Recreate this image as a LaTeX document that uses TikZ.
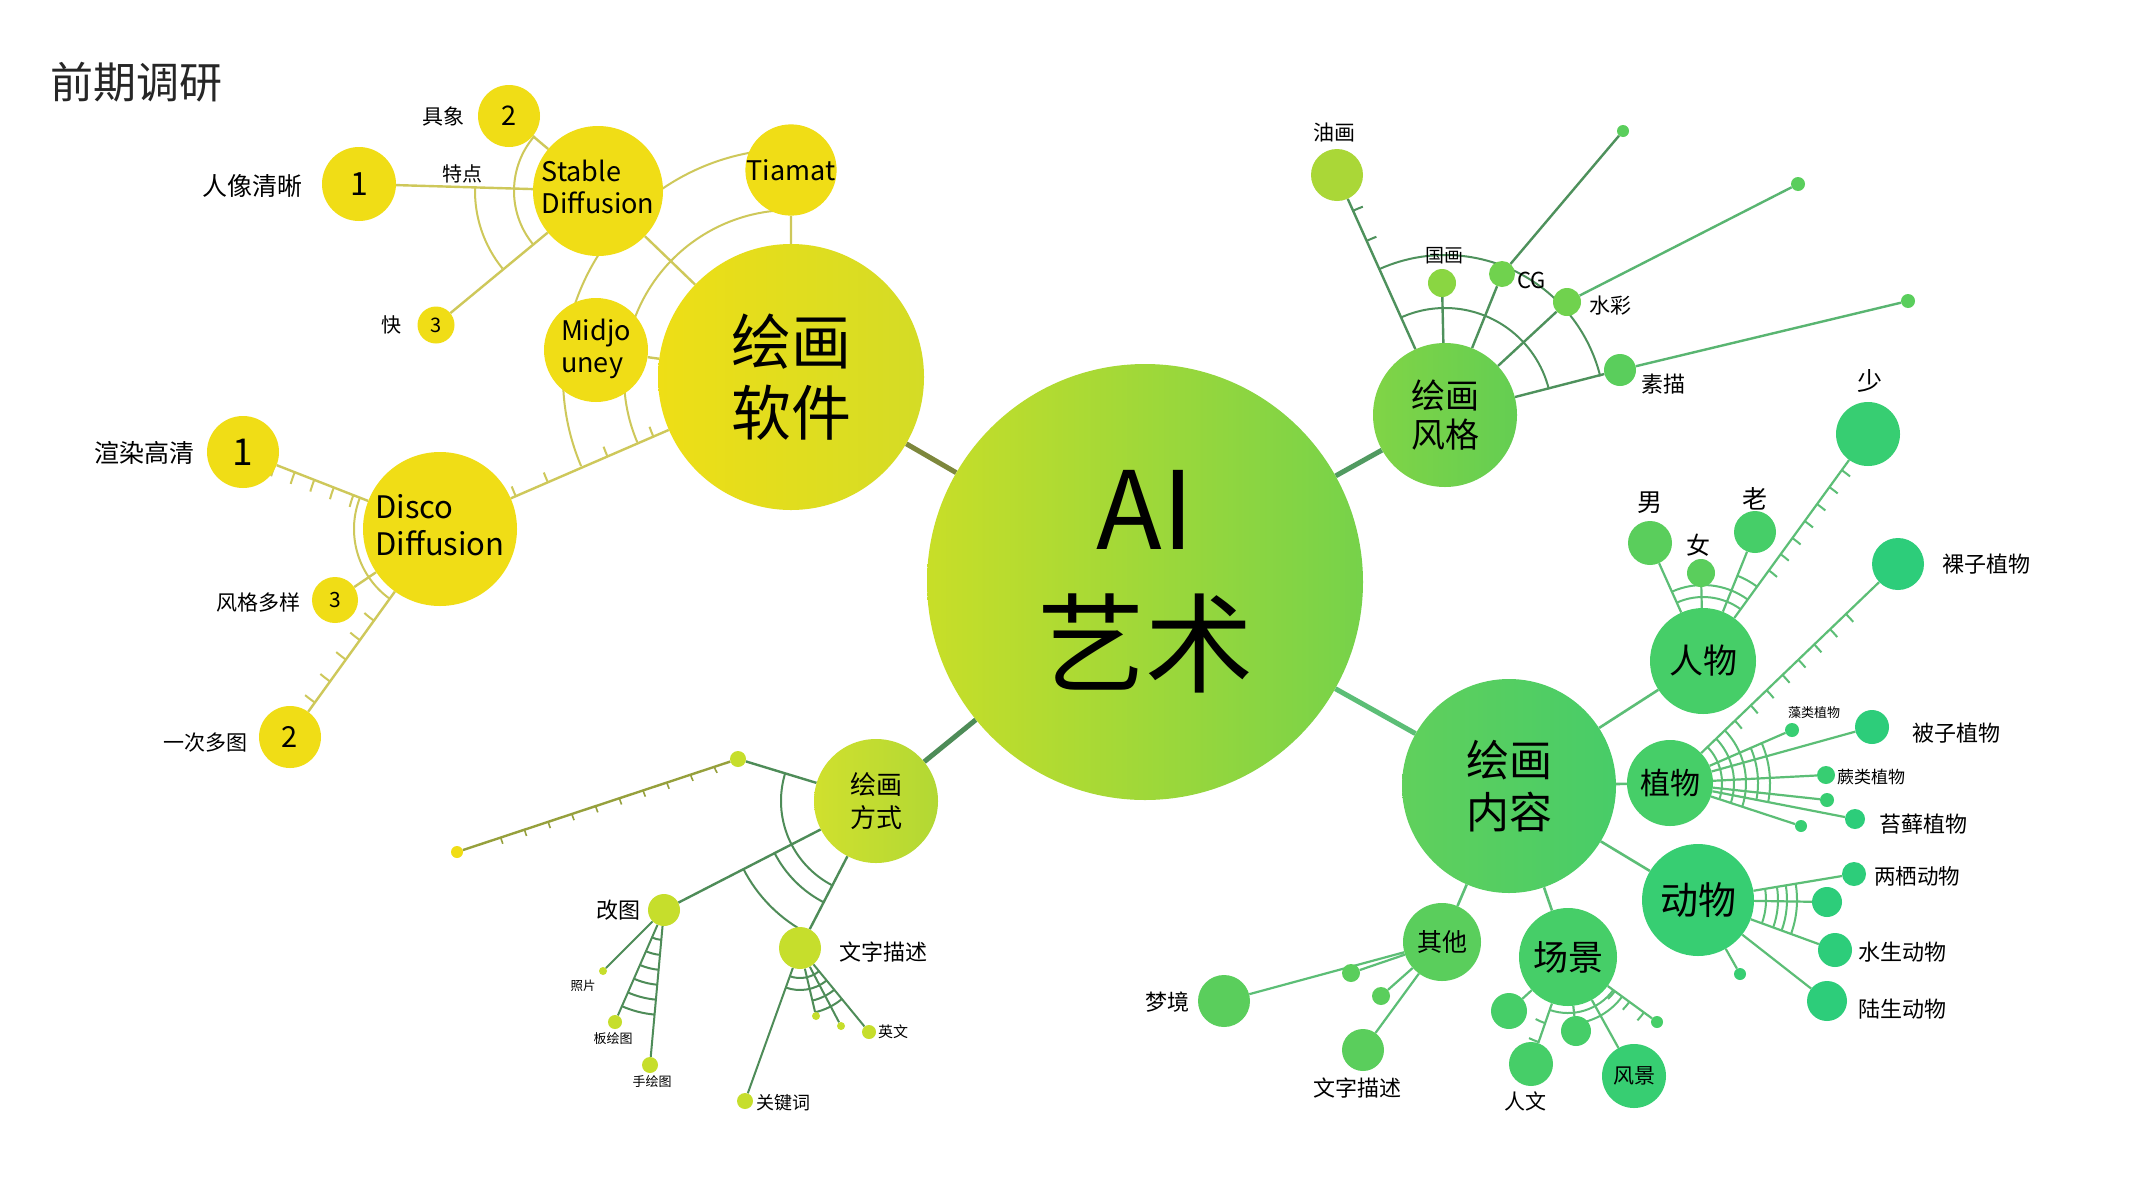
\documentclass[tikz,border=0pt]{standalone}
\usepackage{fontspec}
\setmainfont{Noto Sans CJK SC}
\usetikzlibrary{backgrounds}
\newcommand{\fsz}[1]{\fontsize{#1}{\dimexpr#1pt*5/4\relax}\selectfont}

\definecolor{yel}{RGB}{240,221,22}
\definecolor{softL}{RGB}{238,222,22}
\definecolor{softR}{RGB}{212,220,38}
\definecolor{lineY}{RGB}{206,200,90}
\definecolor{lineSoft}{RGB}{125,135,60}
\definecolor{aiL}{RGB}{200,222,40}
\definecolor{aiR}{RGB}{118,210,74}
\definecolor{wayL}{RGB}{208,224,46}
\definecolor{wayR}{RGB}{178,216,52}
\definecolor{wayDot}{RGB}{198,222,44}
\definecolor{lineW}{RGB}{78,140,88}
\definecolor{lineWfar}{RGB}{150,160,60}
\definecolor{styleL}{RGB}{128,212,70}
\definecolor{styleR}{RGB}{100,206,82}
\definecolor{lineS}{RGB}{78,145,92}
\definecolor{contL}{RGB}{96,208,92}
\definecolor{contR}{RGB}{72,204,104}
\definecolor{lineC}{RGB}{92,190,118}
\definecolor{gA}{RGB}{170,215,55}
\definecolor{gB}{RGB}{138,214,66}
\definecolor{gC}{RGB}{112,210,78}
\definecolor{gD}{RGB}{90,206,92}
\definecolor{gE}{RGB}{70,206,104}
\definecolor{gF}{RGB}{55,206,114}
\definecolor{gG}{RGB}{45,205,122}

\begin{document}
\begin{tikzpicture}[x=1pt,y=-1pt,
  ball/.style={circle,inner sep=0pt,minimum size=#1pt,align=center},
  lab/.style={inner sep=0pt,align=center},
  spokeY/.style={draw=lineY,line width=2.4pt},
  spokeW/.style={draw=lineW,line width=2.4pt},
  spokeS/.style={draw=lineS,line width=2.4pt},
  spokeC/.style={draw=lineC,line width=2.6pt},
  trunk/.style={line width=5pt},
  arcY/.style={draw=lineY,line width=2pt},
  arcW/.style={draw=lineW,line width=2pt},
  arcS/.style={draw=lineS,line width=2pt},
  arcC/.style={draw=lineC,line width=2pt}]

\useasboundingbox (0,0) rectangle (2133,1200);
\begin{scope}[on background layer]
\fill[white] (0,0) rectangle (2133,1200);
\end{scope}

\node[lab,font=\fsz{43},text=black!85] (title) at (136,82) {前期调研};

% AI 艺术
\node[ball=436,left color=aiL,right color=aiR,font=\fsz{108}] (ai) at (1145,582) {AI\\艺术};

% 绘画软件
\node[ball=266,left color=softL,right color=softR,font=\fsz{60}] (soft) at (791,377) {绘画\\[-4pt]软件};
\node[ball=130,fill=yel,font=\fsz{27}] (sd) at (598,191) {\begin{tabular}{@{}l@{}}Stable\\[-2pt]Diffusion\end{tabular}};
\node[ball=88,fill=yel,font=\fsz{27}] (tiamat) at (791,170) {Tiamat};
\node[ball=104,fill=yel,font=\fsz{27}] (mj) at (596,350) {\begin{tabular}{@{}l@{}}Midjo\\[-2pt]uney\end{tabular}};
\node[ball=154,fill=yel,font=\fsz{31}] (dd) at (440,529) {\begin{tabular}{@{}l@{}}Disco\\[-2pt]Diffusion\end{tabular}};
\node[ball=62,fill=yel,font=\fsz{27}] (jx) at (509,116) {2};
\node[ball=74,fill=yel,font=\fsz{32}] (rx) at (359,184) {1};
\node[ball=37,fill=yel,font=\fsz{20}] (kuai) at (436,325) {3};
\node[ball=72,fill=yel,font=\fsz{37}] (xr) at (243,452) {1};
\node[ball=46,fill=yel,font=\fsz{21}] (fg) at (335,600) {3};
\node[ball=62,fill=yel,font=\fsz{29}] (yc) at (290,737) {2};
\node[lab,font=\fsz{21}] (jxL) at (443,116) {具象};
\node[lab,font=\fsz{25}] (rxL) at (252,186) {人像清晰};
\node[lab,font=\fsz{20}] (kuaiL) at (391,325) {快};
\node[lab,font=\fsz{20}] (tedian) at (462,174) {特点};
\node[lab,font=\fsz{25}] (xrL) at (144,453) {渲染高清};
\node[lab,font=\fsz{21}] (fgL) at (258,602) {风格多样};
\node[lab,font=\fsz{21}] (ycL) at (205,743) {一次多图};

% 绘画方式
\node[ball=124,left color=wayL,right color=wayR,font=\fsz{26}] (way) at (876,801) {绘画\\方式};
\node[ball=16,fill=wayDot] (wdot) at (738,759) {};
\node[ball=12,fill=yel] (wfar) at (457,852) {};
\node[ball=32,fill=wayDot] (gaitu) at (664,910) {};
\node[ball=42,fill=wayDot] (wzms) at (800,948) {};
\node[ball=8,fill=wayDot] (zp) at (603,971) {};
\node[ball=14,fill=wayDot] (bh) at (615,1022) {};
\node[ball=16,fill=wayDot] (sh) at (650,1065) {};
\node[ball=16,fill=wayDot] (gjc) at (745,1101) {};
\node[ball=8,fill=wayDot] (wa) at (816,1016) {};
\node[ball=8,fill=wayDot] (wb) at (841,1026) {};
\node[ball=14,fill=wayDot] (yw) at (869,1032) {};
\node[lab,font=\fsz{22}] (gaituL) at (618,910) {改图};
\node[lab,font=\fsz{22},anchor=west] (wzmsL) at (839,952) {文字描述};
\node[lab,font=\fsz{12.5}] (zpL) at (583,986) {照片};
\node[lab,font=\fsz{13}] (bhL) at (613,1039) {板绘图};
\node[lab,font=\fsz{13}] (shL) at (652,1082) {手绘图};
\node[lab,font=\fsz{18},anchor=west] (gjcL) at (756,1103) {关键词};
\node[lab,font=\fsz{15},anchor=west] (ywL) at (878,1032) {英文};

% 绘画风格
\node[ball=144,left color=styleL,right color=styleR,font=\fsz{34}] (style) at (1445,415) {绘画\\[-3pt]风格};
\node[ball=52,fill=gA] (yh) at (1337,175) {};
\node[ball=28,fill=gB] (gh) at (1442,283) {};
\node[ball=26,fill=gC] (cg) at (1502,274) {};
\node[ball=28,fill=gC] (sc) at (1567,302) {};
\node[ball=32,fill=gD] (sm) at (1620,370) {};
\node[ball=12,fill=gD] (cgf) at (1623,131) {};
\node[ball=14,fill=gD] (scf) at (1798,184) {};
\node[ball=14,fill=gD] (smf) at (1908,301) {};
\node[lab,font=\fsz{21}] (yhL) at (1334,133) {油画};
\node[lab,font=\fsz{19}] (ghL) at (1444,256) {国画};
\node[lab,font=\fsz{22},anchor=west] (cgL) at (1517,280) {CG};
\node[lab,font=\fsz{21},anchor=west] (scL) at (1589,306) {水彩};
\node[lab,font=\fsz{22},anchor=west] (smL) at (1641,384) {素描};

% 绘画内容
\node[ball=214,left color=contL,right color=contR,font=\fsz{43}] (content) at (1509,786) {绘画\\[-2pt]内容};
\node[ball=106,fill=gE,font=\fsz{34}] (rw) at (1703,661) {人物};
\node[ball=86,fill=gE,font=\fsz{30}] (zw) at (1670,783) {植物};
\node[ball=112,fill=gF,font=\fsz{38}] (dw) at (1698,900) {动物};
\node[ball=98,fill=gE,font=\fsz{35}] (cj) at (1568,957) {场景};
\node[ball=78,fill=gD,font=\fsz{25}] (qt) at (1442,942) {其他};
\node[ball=44,fill=gD] (nan) at (1650,543) {};
\node[ball=28,fill=gD] (nv) at (1701,573) {};
\node[ball=42,fill=gE] (lao) at (1755,532) {};
\node[ball=64,fill=gF] (shao) at (1868,434) {};
\node[ball=52,fill=gG] (lz) at (1898,564) {};
\node[ball=14,fill=gF] (zl) at (1792,730) {};
\node[ball=34,fill=gG] (bz) at (1872,727) {};
\node[ball=18,fill=gF] (jl) at (1826,775) {};
\node[ball=14,fill=gF] (zdot) at (1827,800) {};
\node[ball=20,fill=gG] (tx) at (1855,819) {};
\node[ball=12,fill=gF] (zdotb) at (1801,826) {};
\node[ball=24,fill=gG] (lq) at (1854,874) {};
\node[ball=30,fill=gG] (ddot) at (1827,902) {};
\node[ball=34,fill=gG] (ss) at (1835,950) {};
\node[ball=40,fill=gG] (ls) at (1827,1001) {};
\node[ball=12,fill=gF] (ddotb) at (1740,974) {};
\node[ball=36,fill=gE] (cja) at (1509,1011) {};
\node[ball=44,fill=gE] (rwen) at (1531,1064) {};
\node[ball=30,fill=gE] (cjb) at (1576,1031) {};
\node[ball=64,fill=gF,font=\fsz{21}] (fj) at (1634,1076) {风景};
\node[ball=12,fill=gE] (cjc) at (1657,1022) {};
\node[ball=52,fill=gD] (mjing) at (1224,1001) {};
\node[ball=18,fill=gD] (qda) at (1351,973) {};
\node[ball=18,fill=gD] (qdb) at (1381,996) {};
\node[ball=42,fill=gD] (qwz) at (1363,1050) {};
\node[lab,font=\fsz{25}] (nanL) at (1650,503) {男};
\node[lab,font=\fsz{24}] (nvL) at (1698,545) {女};
\node[lab,font=\fsz{25}] (laoL) at (1755,499) {老};
\node[lab,font=\fsz{25}] (shaoL) at (1870,381) {少};
\node[lab,font=\fsz{22},anchor=west] (lzL) at (1942,564) {裸子植物};
\node[lab,font=\fsz{13}] (zlL) at (1814,713) {藻类植物};
\node[lab,font=\fsz{22},anchor=west] (bzL) at (1912,733) {被子植物};
\node[lab,font=\fsz{17},anchor=west] (jlL) at (1837,777) {蕨类植物};
\node[lab,font=\fsz{22},anchor=west] (txL) at (1879,824) {苔藓植物};
\node[lab,font=\fsz{21.5},anchor=west] (lqL) at (1874,876) {两栖动物};
\node[lab,font=\fsz{22},anchor=west] (ssL) at (1858,952) {水生动物};
\node[lab,font=\fsz{22},anchor=west] (lsL) at (1858,1009) {陆生动物};
\node[lab,font=\fsz{21}] (rwenL) at (1525,1101) {人文};
\node[lab,font=\fsz{22}] (mjingL) at (1167,1002) {梦境};
\node[lab,font=\fsz{22}] (qwzL) at (1357,1088) {文字描述};

\begin{scope}[on background layer]
% trunks
\draw[trunk,lineSoft] (soft) -- (ai);
\draw[trunk,lineW] (way) -- (ai);
\draw[trunk,lineS!80!lineC] (style) -- (ai);
\draw[trunk,lineC] (content) -- (ai);

% software
\draw[spokeY] (soft) -- (sd) (soft) -- (tiamat) (soft) -- (mj) (soft) -- (dd);
\draw[spokeY] (sd) -- (jx) (sd) -- (rx) (sd) -- (kuai);
\draw[spokeY] (dd) -- (xr) (dd) -- (fg) (dd) -- (yc);
\foreach \r in {167,228}
  \draw[arcY] ([shift={(157:\r)}]soft.center) arc[start angle=157,end angle=270,radius=\r];
\foreach \d in {150,200,265,300}
  \draw[arcY] ([shift={(156.6:\d)}]soft.center) arc[start angle=156.6,end angle={156.6+600/\d},radius=\d];
\draw[arcY] ([shift={(141:84)}]sd.center) arc[start angle=141,end angle=221,radius=84];
\draw[arcY] ([shift={(141:123)}]sd.center) arc[start angle=141,end angle=182,radius=123];
\draw[arcY] ([shift={(126:86)}]dd.center) arc[start angle=126,end angle=201,radius=86];
\foreach \d in {93,114,135,156,177}
  \draw[arcY] ([shift={(201.3:\d)}]dd.center) arc[start angle=201.3,end angle={201.3-700/\d},radius=\d];
\foreach \d in {113,137,161,188,214}
  \draw[arcY] ([shift={(125.8:\d)}]dd.center) arc[start angle=125.8,end angle={125.8+700/\d},radius=\d];

% ways
\draw[spokeW] (way) -- (wdot) (way) -- (gaitu) (way) -- (wzms);
\draw[draw=lineWfar,line width=2.4pt] (wdot) -- (wfar);
\foreach \d in {25,50,...,250}
  \draw[draw=lineWfar,line width=1.6pt] ([shift={(161.7:\d)}]wdot.center) arc[start angle=161.7,end angle={161.7-380/\d},radius=\d];
\draw[arcW] ([shift={(117:95)}]way.center) arc[start angle=117,end angle=197,radius=95];
\foreach \r in {114,149}
  \draw[arcW] ([shift={(117:\r)}]way.center) arc[start angle=117,end angle=153,radius=\r];
\draw[spokeW,line width=2pt] (gaitu) -- (zp) (gaitu) -- (bh) (gaitu) -- (sh);
\foreach \r in {30,45,...,105}
  \draw[arcW] ([shift={(95:\r)}]gaitu.center) arc[start angle=95,end angle=114,radius=\r];
\draw[spokeW,line width=2pt] (wzms) -- (gjc) (wzms) -- (wa) (wzms) -- (wb) (wzms) -- (yw);
\foreach \r in {30,42}
  \draw[arcW] ([shift={(51:\r)}]wzms.center) arc[start angle=51,end angle=110,radius=\r];
\foreach \r in {54,66}
  \draw[arcW] ([shift={(51:\r)}]wzms.center) arc[start angle=51,end angle=77,radius=\r];

% styles
\draw[spokeS] (style) -- (yh) (style) -- (gh) (style) -- (cg) (style) -- (sc) (style) -- (sm);
\draw[spokeS] (cg) -- (cgf);
\draw[spokeS,draw=lineC!80!lineS] (sc) -- (scf) (sm) -- (smf);
\foreach \r in {107,160}
  \draw[arcS] ([shift={(-114:\r)}]style.center) arc[start angle=-114,end angle=-14,radius=\r];
\foreach \d in {191,224}
  \draw[arcS] ([shift={(-114.2:\d)}]style.center) arc[start angle=-114.2,end angle={-114.2+600/\d},radius=\d];

% contents
\draw[spokeC] (content) -- (rw) (content) -- (zw) (content) -- (dw) (content) -- (cj) (content) -- (qt);
\draw[spokeC,line width=2.2pt] (rw) -- (nan) (rw) -- (nv) (rw) -- (lao) (rw) -- (shao);
\foreach \r in {64,76}
  \draw[arcC] ([shift={(-114:\r)}]rw.center) arc[start angle=-114,end angle=-54,radius=\r];
\draw[arcC] ([shift={(-68:92)}]rw.center) arc[start angle=-68,end angle=-54,radius=92];
\foreach \d in {112,132,152,173,194,215,236}
  \draw[arcC] ([shift={(-54:\d)}]rw.center) arc[start angle=-54,end angle={-54+600/\d},radius=\d];
\draw[spokeC,line width=2.2pt] (zw) -- (lz) (zw) -- (zl) (zw) -- (bz) (zw) -- (jl) (zw) -- (zdot) (zw) -- (tx) (zw) -- (zdotb);
\foreach \r in {52,64,76}
  \draw[arcC] ([shift={(-44:\r)}]zw.center) arc[start angle=-44,end angle=18,radius=\r];
\foreach \r in {88,100}
  \draw[arcC] ([shift={(-24:\r)}]zw.center) arc[start angle=-24,end angle=11,radius=\r];
\foreach \d in {90,112,134,156,178,200,222,244}
  \draw[arcC] ([shift={(-43.8:\d)}]zw.center) arc[start angle=-43.8,end angle={-43.8+600/\d},radius=\d];
\draw[spokeC,line width=2.2pt] (dw) -- (lq) (dw) -- (ddot) (dw) -- (ss) (dw) -- (ls) (dw) -- (ddotb);
\foreach \r in {68,80,89,99}
  \draw[arcC] ([shift={(-9.5:\r)}]dw.center) arc[start angle=-9.5,end angle=20,radius=\r];
\draw[spokeC,line width=2.2pt] (cj) -- (cja) (cj) -- (rwen) (cj) -- (cjb) (cj) -- (fj) (cj) -- (cjc);
\draw[arcC] ([shift={(36:56)}]cj.center) arc[start angle=36,end angle=109,radius=56];
\draw[arcC] ([shift={(36:67)}]cj.center) arc[start angle=36,end angle=84,radius=67];
\foreach \d in {70,90}
  \draw[arcC] ([shift={(109:\d)}]cj.center) arc[start angle=109,end angle={109+600/\d},radius=\d];
\foreach \d in {58,76,94}
  \draw[arcC] ([shift={(36:\d)}]cj.center) arc[start angle=36,end angle={36+600/\d},radius=\d];
\draw[spokeC,line width=2.2pt] (qt) -- (mjing) (qt) -- (qda) (qt) -- (qdb) (qt) -- (qwz);
\end{scope}

\end{tikzpicture}
\end{document}
